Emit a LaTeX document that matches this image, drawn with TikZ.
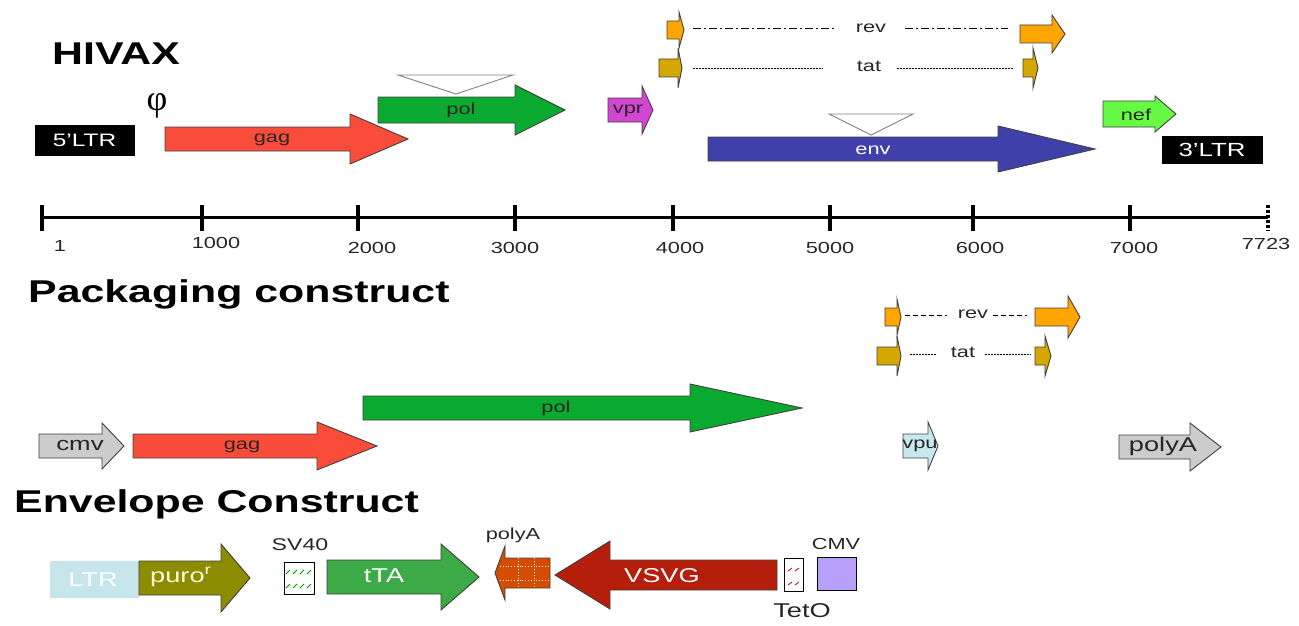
\documentclass[tikz,border=0pt]{standalone}
\usepackage{fontspec}
\setmainfont[FakeStretch=1.36]{Liberation Sans}
\newfontfamily\psifont{Liberation Serif}
\usepackage{tikz}
\usetikzlibrary{calc}
\definecolor{gagred}{RGB}{250,76,58}
\definecolor{polgreen}{RGB}{10,170,48}
\definecolor{vprmag}{RGB}{210,70,210}
\definecolor{revorange}{RGB}{255,165,0}
\definecolor{tatgold}{RGB}{212,168,0}
\definecolor{envblue}{RGB}{64,64,170}
\definecolor{neflime}{RGB}{102,250,68}
\definecolor{cmvgray}{RGB}{204,204,204}
\definecolor{vpucyan}{RGB}{200,232,240}
\definecolor{ltrblue}{RGB}{197,229,234}
\definecolor{puroolive}{RGB}{140,140,0}
\definecolor{ttagreen}{RGB}{60,170,70}
\definecolor{pabrick}{RGB}{214,76,0}
\definecolor{vsvgred}{RGB}{180,30,10}
\definecolor{cmvlav}{RGB}{184,160,250}
% arrow: [style](x start : x head : x tip : y centre : half shaft : half head)
\def\genearrow[#1](#2:#3:#4:#5:#6:#7){\draw[#1] (#2,#5-#6) -- (#3,#5-#6) -- (#3,#5-#7) -- (#4,#5) -- (#3,#5+#7) -- (#3,#5+#6) -- (#2,#5+#6) -- cycle;}
\tikzset{
  gene/.style={draw=black!75, line width=0.9pt},
  lbl/.style={font=\fontsize{16}{16}\selectfont, text=black!85, inner sep=0pt},
  hdr/.style={font=\bfseries\fontsize{31.5}{31.5}\selectfont, anchor=west, inner sep=0pt}
}

\begin{document}
\begin{tikzpicture}[x=1pt, y=-1pt]
		%%%%% START %%%%%
		\useasboundingbox (0,0) rectangle (1299,626);
		
		% HIVAX genome
		\node[hdr] (hivax) at (52,54) {HIVAX};
		
		\draw[fill=black] (35,125) rectangle (134,155);
		\node[lbl, text=white, font=\fontsize{18}{18}\selectfont] (ltr5) at (84.5,140) {5'LTR};
		\node[inner sep=0pt, font=\psifont\fontsize{36}{36}\selectfont] (psi) at (157,106) {φ};
		
		\genearrow[gene, fill=gagred](165:350:408:139:12:25)
		\node[lbl] (gag1) at (272,140) {gag};
		
		\draw[gray, fill=white, line width=0.9pt] (398,75) -- (513,75) -- (456,94) -- cycle;
		\genearrow[gene, fill=polgreen](378:515:565:110:13:25)
		\node[lbl] (pol1) at (461,110) {pol};
		
		\genearrow[gene, fill=vprmag](608:642:653:110:12:24)
		\node[lbl] (vpr1) at (628,111) {vpr};
		
		\genearrow[gene, fill=revorange](667:679:684:30:9:18)
		\draw[line width=1pt, dash pattern=on 8pt off 3pt on 2pt off 3pt] (693,29) -- (835,29);
		\node[lbl] (rev1) at (871,28) {rev};
		\draw[line width=1pt, dash pattern=on 8pt off 3pt on 2pt off 3pt] (905,29) -- (1008,29);
		\genearrow[gene, fill=revorange](1020:1052:1065:34:9:19)
		
		\genearrow[gene, fill=tatgold](659:678:682:68:9:20)
		\draw[line width=0.8pt, dash pattern=on 1.5pt off 1.5pt] (693,68) -- (823,68);
		\node[lbl] (tat1) at (869,66) {tat};
		\draw[line width=0.8pt, dash pattern=on 1.5pt off 1.5pt] (897,68) -- (1013,68);
		\genearrow[gene, fill=tatgold](1023:1033:1038:68:9:20)
		
		\draw[gray, fill=white, line width=0.9pt] (829,114) -- (913,114) -- (871,135) -- cycle;
		\genearrow[gene, fill=envblue](708:998:1095:149:12:23)
		\node[lbl, text=white] (env1) at (873,150) {env};
		
		\genearrow[gene, fill=neflime](1103:1155:1176:114:13:18)
		\node[lbl] (nef1) at (1136,115) {nef};
		
		\draw[fill=black] (1162,136) rectangle (1262,163);
		\node[lbl, text=white, font=\fontsize{19}{19}\selectfont] (ltr3) at (1212,150) {3'LTR};
		
		% scale bar
		\draw[line width=3pt] (42,217) -- (1268,217);
		\foreach \t in {42,202,358,515,673,830,973,1130}
			\draw[line width=4pt] (\t,205) -- (\t,231);
		\draw[line width=4pt, dash pattern=on 3pt off 2pt] (1268,205) -- (1268,231);
		\foreach \lx/\ly/\lab in {60/246/1, 216/243/1000, 372/248/2000, 515/248/3000, 680/248/4000, 830/248/5000, 980/248/6000, 1134/248/7000, 1266/244/7723}
			\node[lbl] (tick\lab) at (\lx,\ly) {\lab};
		
		% packaging construct
		\node[hdr] (pack) at (28,294) {Packaging construct};
		
		\genearrow[gene, fill=revorange](885:897:901:317:9:18)
		\draw[line width=1pt, dash pattern=on 5pt off 3pt] (905,315) -- (947,315);
		\node[lbl] (rev2) at (973,314) {rev};
		\draw[line width=1pt, dash pattern=on 5pt off 3pt] (993,315) -- (1027,315);
		\genearrow[gene, fill=revorange](1035:1068:1080:317:9:21)
		
		\genearrow[gene, fill=tatgold](877:897:901:356:9:20)
		\draw[line width=0.8pt, dash pattern=on 1.5pt off 1.5pt] (910,354) -- (937,354);
		\node[lbl] (tat2) at (963,352) {tat};
		\draw[line width=0.8pt, dash pattern=on 1.5pt off 1.5pt] (985,354) -- (1031,354);
		\genearrow[gene, fill=tatgold](1035:1045:1051:356:9:20)
		
		\genearrow[gene, fill=polgreen](363:690:802:408:12:24)
		\node[lbl] (pol2) at (556,408) {pol};
		
		\genearrow[gene, fill=cmvgray](39:102:124:446:12:23)
		\node[lbl, font=\fontsize{19}{19}\selectfont] (cmv2) at (80,445) {cmv};
		\genearrow[gene, fill=gagred](133:317:377:446:12:24)
		\node[lbl] (gag2) at (242,447) {gag};
		
		\genearrow[gene, fill=vpucyan](903:928:938:446:12:24)
		\node[lbl] (vpu2) at (920,446) {vpu};
		\genearrow[gene, fill=cmvgray](1119:1190:1221:447:12:24)
		\node[lbl, font=\fontsize{20}{20}\selectfont] (polya2) at (1163,446) {polyA};
		
		% envelope construct
		\node[hdr] (envc) at (14,504) {Envelope Construct};
		
		\fill[ltrblue] (50,561) rectangle (139,598);
		\node[lbl, text=white, font=\fontsize{20}{20}\selectfont] (ltr4) at (93,580) {LTR};
		\genearrow[gene, fill=puroolive](139:221:250:578:17:34)
		\node[lbl, text=yellow!15, font=\fontsize{20}{20}\selectfont] (puro) at (180,577) {puro$^{\mathrm{r}}$};
		
		\draw[line width=0.9pt, fill=white] (284,562) rectangle (314,594);
		\foreach \dx in {288,295,302,309}
			\foreach \dy in {572,586}
				\draw[green!60!black, line width=0.8pt] (\dx-2,\dy+2) -- (\dx+2,\dy-2);
		\node[lbl, font=\fontsize{17}{17}\selectfont] (sv40) at (300,545) {SV40};
		
		\genearrow[gene, fill=ttagreen](327:441:479:577:17:33)
		\node[lbl, text=white, font=\fontsize{20}{20}\selectfont] (tta) at (384,576) {tTA};
		
		\genearrow[gene, fill=pabrick](550:505:495:573:15:27)
		\draw[white, line width=0.8pt, dotted] (500,566) -- (550,566) (500,580) -- (550,580) (518,558) -- (518,588) (534,558) -- (534,588);
		\node[lbl] (polya3) at (513,535) {polyA};
		
		\genearrow[gene, fill=vsvgred](777:610:555:575:15:34)
		\node[lbl, text=white, font=\fontsize{20}{20}\selectfont] (vsvg) at (662,576) {VSVG};
		
		\draw[line width=0.9pt, fill=white] (784,558) rectangle (803,591);
		\foreach \dy in {568,582}
			\draw[red!75!black, line width=0.8pt] (788,\dy+3) -- (792,\dy) (795,\dy+3) -- (799,\dy);
		\node[lbl, font=\fontsize{20}{20}\selectfont] (teto) at (802,611) {TetO};
		
		\draw[line width=0.9pt, fill=cmvlav] (817,557) rectangle (856,590);
		\node[lbl] (cmv3) at (836,544) {CMV};
		
		%%%%% END %%%%%
	\end{tikzpicture}
\end{document}
